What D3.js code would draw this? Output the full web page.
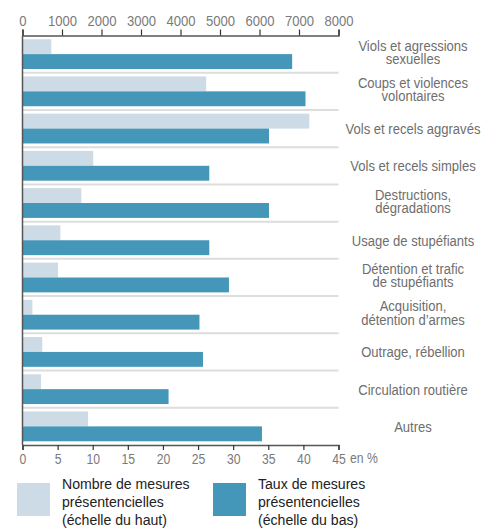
<!DOCTYPE html>
<html>
<head>
<meta charset="utf-8">
<script src="https://cdn.jsdelivr.net/npm/d3@7"></script>
<style>
  html, body { margin: 0; padding: 0; background: #fff; }
  svg { display: block; font-family: "Liberation Sans", Arial, sans-serif; }
</style>
</head>
<body>
<svg id="chart" width="487" height="528"></svg>
<script>
const categories = [
  "Viols et agressions\nsexuelles",
  "Coups et violences\nvolontaires",
  "Vols et recels aggravés",
  "Vols et recels simples",
  "Destructions,\ndégradations",
  "Usage de stupéfiants",
  "Détention et trafic\nde stupéfiants",
  "Acquisition,\ndétention d’armes",
  "Outrage, rébellion",
  "Circulation routière",
  "Autres"
];
const nombreMesures = [730, 4650, 7260, 1790, 1490, 960, 900, 250, 500, 470, 1660];
const tauxMesures = [38.4, 40.3, 35.1, 26.6, 35.1, 26.6, 29.4, 25.2, 25.7, 20.8, 34.1];
const topTicks = [0, 1000, 2000, 3000, 4000, 5000, 6000, 7000, 8000];
const bottomTicks = [0, 5, 10, 15, 20, 25, 30, 35, 40, 45];
const unitLabel = "en %";
const legendNombre = ["Nombre de mesures", "présentencielles", "(échelle du haut)"];
const legendTaux = ["Taux de mesures", "présentencielles", "(échelle du bas)"];

const lightColor = "#cddbe6";
const darkColor = "#4497b8";
const axisColor = "#555";
const tickTextColor = "#7a7a7a";
const condense = 0.87;

const svg = d3.select("#chart");
const mLeft = 22.5, mRight = 338.5, mTop = 35.5, mBottom = 445;

const xTop = d3.scaleLinear().domain([0, 8000]).range([mLeft, mRight]);
const xBot = d3.scaleLinear().domain([0, 45]).range([mLeft, mRight]);
const y = d3.scaleBand().domain(d3.range(categories.length)).range([mTop, mBottom])
  .paddingInner(0.2).paddingOuter(0.1);
const bh = y.bandwidth() / 2;

// separators
const step = y.step();
svg.append("g").selectAll("line")
  .data(d3.range(1, categories.length))
  .join("line")
  .attr("x1", mLeft).attr("x2", mRight)
  .attr("y1", i => y(i) - (step - y.bandwidth()) / 2)
  .attr("y2", i => y(i) - (step - y.bandwidth()) / 2)
  .attr("stroke", "#dddddd").attr("stroke-width", 2);

// bars
svg.append("g").selectAll("rect")
  .data(nombreMesures)
  .join("rect")
  .attr("x", xTop(0))
  .attr("y", (d, i) => y(i))
  .attr("width", d => xTop(d) - xTop(0))
  .attr("height", bh)
  .attr("fill", lightColor);

svg.append("g").selectAll("rect")
  .data(tauxMesures)
  .join("rect")
  .attr("x", xBot(0))
  .attr("y", (d, i) => y(i) + bh)
  .attr("width", d => xBot(d) - xBot(0))
  .attr("height", bh)
  .attr("fill", darkColor);

// axes
const gTop = svg.append("g").attr("transform", `translate(0,${mTop})`)
  .call(d3.axisTop(xTop).tickValues(topTicks).tickFormat(d3.format("d")).tickSizeInner(6).tickSizeOuter(6).tickPadding(4));
const gBot = svg.append("g").attr("transform", `translate(0,${mBottom})`)
  .call(d3.axisBottom(xBot).tickValues(bottomTicks).tickFormat(d3.format("d")).tickSizeInner(5).tickSizeOuter(5).tickPadding(4));
[gTop, gBot].forEach(g => {
  g.attr("font-family", null);
  g.select(".domain").attr("stroke", axisColor).attr("stroke-width", 1.5);
  g.selectAll(".tick line").attr("stroke", "#333").attr("stroke-width", 1.2);
  g.selectAll(".tick text").attr("fill", tickTextColor).attr("transform", `scale(${condense},1)`);
});
gTop.attr("font-size", 15);
gBot.attr("font-size", 14);

svg.append("line")
  .attr("x1", mLeft).attr("x2", mLeft).attr("y1", mTop).attr("y2", mBottom)
  .attr("stroke", axisColor).attr("stroke-width", 1.5);

svg.append("text")
  .attr("transform", `translate(350,463) scale(${condense},1)`)
  .attr("fill", tickTextColor).attr("font-size", 14)
  .text(unitLabel);

// category labels
const labels = svg.append("g").attr("fill", "#6e6e6e").attr("font-size", 15).attr("text-anchor", "middle");
categories.forEach((c, i) => {
  const lines = c.split("\n");
  const cy = y(i) + y.bandwidth() / 2;
  const t = labels.append("text")
    .attr("transform", `translate(413,${lines.length > 1 ? cy - 3.5 : cy + 5.5}) scale(${condense},1)`);
  lines.forEach((ln, k) => {
    t.append("tspan").attr("x", 0).attr("y", k * 13.5).text(ln);
  });
});

// legend
const legend = [
  { color: lightColor, x: 17, lines: legendNombre },
  { color: darkColor, x: 213, lines: legendTaux }
];
legend.forEach(l => {
  svg.append("rect").attr("x", l.x).attr("y", 483).attr("width", 33).attr("height", 33).attr("fill", l.color);
  const t = svg.append("text").attr("fill", "#222").attr("font-size", 15.5)
    .attr("transform", `translate(${l.x + 45},489) scale(0.91,1)`);
  l.lines.forEach((ln, k) => {
    t.append("tspan").attr("x", 0).attr("y", k * 18).text(ln);
  });
});
</script>
</body>
</html>
